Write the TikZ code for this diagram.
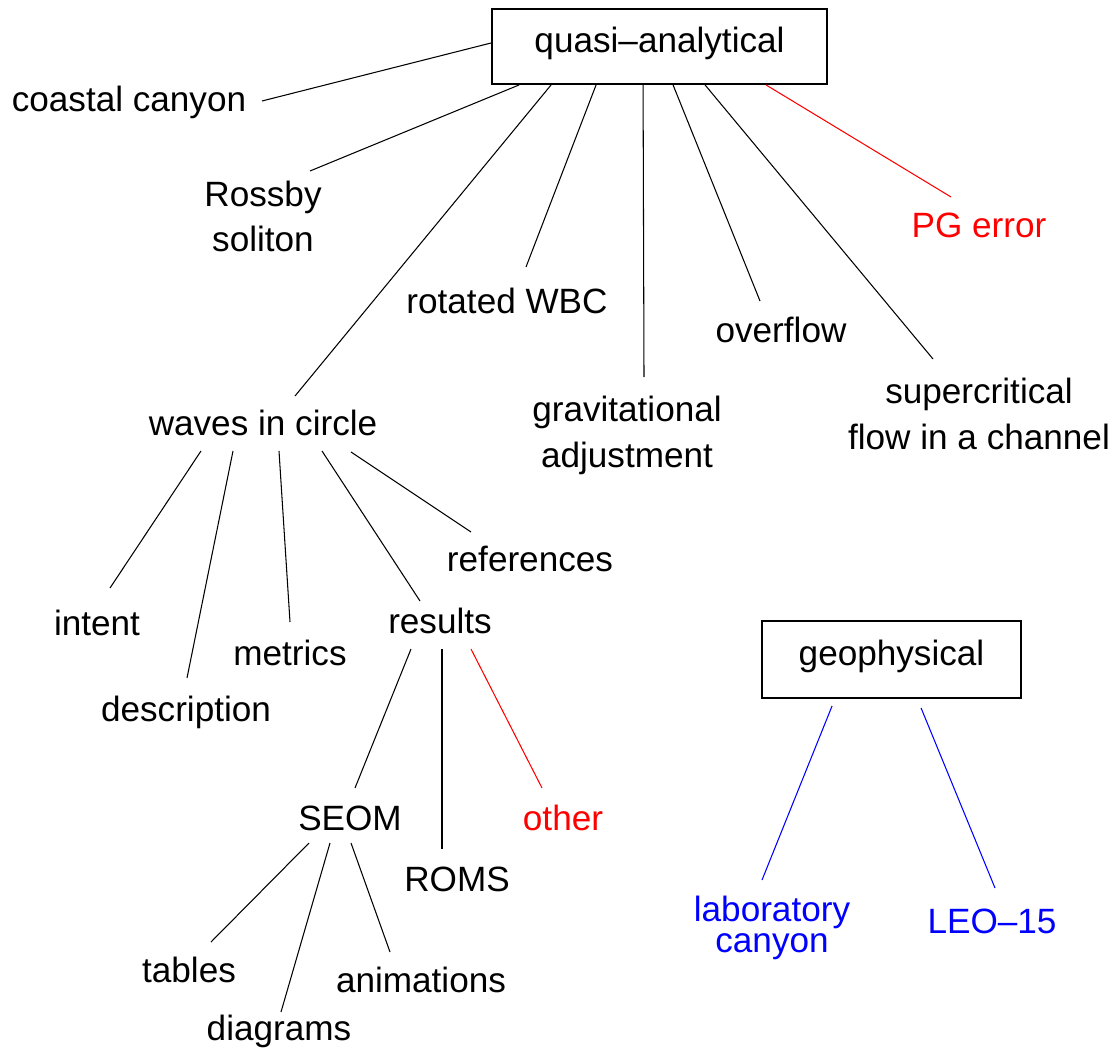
\documentclass[tikz,border=0pt]{standalone}
\usepackage{fontspec}
\setmainfont{Liberation Sans}
\usepackage{xcolor}

\begin{document}
\begin{tikzpicture}[x=0.02cm, y=-0.02cm,
    every node/.style={font=\fontsize{20}{26}\selectfont, inner sep=0pt},
    leaf/.style={anchor=base, align=center},
    topic/.style={draw, line width=1.1pt, text height=0.72em, text depth=0.05em},
    link/.style={line width=0.6pt}]
    \useasboundingbox (0,0) rectangle (1118,1050);

    % Draw the two boxed headings
    \node[topic, minimum width=6.7cm, minimum height=1.5cm] (qa) at (659.5,46.5) {quasi–analytical};
    \node[topic, minimum width=5.18cm, minimum height=1.54cm] (geo) at (891.5,659.5) {geophysical};

    % Draw the topics under quasi-analytical (base is the last line)
    \node[leaf] (coastal) at (129,112) {coastal canyon};
    \node[leaf] (rossby) at (263,252) {Rossby\\soliton};
    \node[leaf] (waves) at (263,436) {waves in circle};
    \node[leaf] (rotated) at (507,314) {rotated WBC};
    \node[leaf] (grav) at (627,467) {gravitational\\adjustment};
    \node[leaf] (overflow) at (781,343) {overflow};
    \node[leaf] (supercrit) at (979,449) {supercritical\\flow in a channel};
    \node[leaf, red] (pgerror) at (979,238) {PG error};

    % Draw the topics under waves in circle
    \node[leaf] (intent) at (97,635) {intent};
    \node[leaf] (descr) at (186,721) {description};
    \node[leaf] (metrics) at (290,665) {metrics};
    \node[leaf] (results) at (440,633) {results};
    \node[leaf] (refs) at (530,571) {references};
    \node[leaf] (seom) at (350,830) {SEOM};
    \node[leaf] (roms) at (457,891) {ROMS};
    \node[leaf, red] (other) at (563,830) {other};
    \node[leaf] (tables) at (189,982) {tables};
    \node[leaf] (diagrams) at (279,1040) {diagrams};
    \node[leaf] (anim) at (421,992) {animations};

    % Draw the topics under geophysical
    \node[leaf, blue, font=\fontsize{20}{17.5}\selectfont] (labcanyon) at (772,952) {laboratory\\canyon};
    \node[leaf, blue] (leo) at (992,933) {LEO–15};

    % Draw the lines from quasi-analytical
    \draw[link] ([shift={(0,-3.5)}]qa.west) -- ([shift={(133,-11)}]coastal.base);
    \draw[link] ([shift={(28,0)}]qa.south west) -- ([shift={(47,-81)}]rossby.base);
    \draw[link] ([shift={(60,0)}]qa.south west) -- ([shift={(32,-40)}]waves.base);
    \draw[link] ([shift={(105,0)}]qa.south west) -- ([shift={(19,-47)}]rotated.base);
    \draw[link] ([shift={(152,0)}]qa.south west) -- ([shift={(17,-90)}]grav.base);
    \draw[link] ([shift={(182,0)}]qa.south west) -- ([shift={(-21,-42)}]overflow.base);
    \draw[link] ([shift={(214,0)}]qa.south west) -- ([shift={(-46,-90)}]supercrit.base);
    \draw[link, red] ([shift={(275,0)}]qa.south west) -- ([shift={(-28,-41)}]pgerror.base);

    % Draw the lines from waves in circle
    \draw[link] ([shift={(-62,15)}]waves.base) -- ([shift={(13,-47)}]intent.base);
    \draw[link] ([shift={(-30,15)}]waves.base) -- ([shift={(1,-43)}]descr.base);
    \draw[link] ([shift={(16,15)}]waves.base) -- ([shift={(0,-43)}]metrics.base);
    \draw[link] ([shift={(59,15)}]waves.base) -- ([shift={(-20,-32)}]results.base);
    \draw[link] ([shift={(88,16)}]waves.base) -- ([shift={(-59,-39)}]refs.base);

    % Draw the lines from results and SEOM
    \draw[link] ([shift={(-29,16)}]results.base) -- ([shift={(5,-42)}]seom.base);
    \draw[link] ([shift={(2,16)}]results.base) -- ([shift={(-15,-42)}]roms.base);
    \draw[link, red] ([shift={(31,16)}]results.base) -- ([shift={(-21,-42)}]other.base);
    \draw[link] ([shift={(-41,13)}]seom.base) -- ([shift={(22,-40)}]tables.base);
    \draw[link] ([shift={(-20,13)}]seom.base) -- ([shift={(2,-28)}]diagrams.base);
    \draw[link] ([shift={(1,13)}]seom.base) -- ([shift={(-31,-40)}]anim.base);

    % Draw the blue lines from geophysical
    \draw[link, blue] ([shift={(71,7)}]geo.south west) -- ([shift={(-10,-72)}]labcanyon.base);
    \draw[link, blue] ([shift={(160,9)}]geo.south west) -- ([shift={(3,-45)}]leo.base);
\end{tikzpicture}
\end{document}
